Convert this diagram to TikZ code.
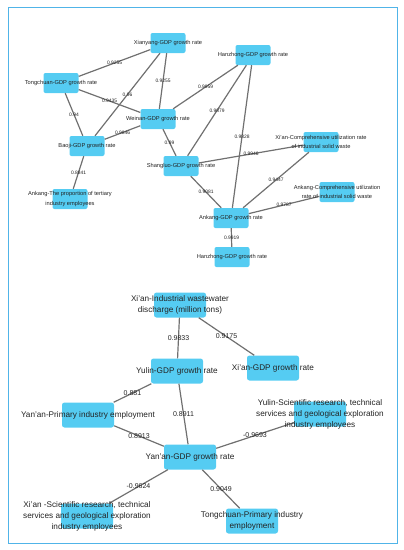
\documentclass[tikz,border=0pt]{standalone}
\usepackage{fontspec}
\setmainfont{Liberation Sans}
\definecolor{boxc}{RGB}{85,204,242}
\definecolor{edgec}{RGB}{112,112,112}
\definecolor{framec}{RGB}{80,180,232}
\definecolor{txtc}{RGB}{35,35,35}
\begin{document}
\begin{tikzpicture}[x=1pt,y=-1pt,
  tbox/.style={fill=boxc,draw=none,rounded corners=2pt,minimum width=35pt,minimum height=20pt,inner sep=0pt},
  bbox/.style={fill=boxc,draw=none,rounded corners=2.5pt,minimum width=52pt,minimum height=25pt,inner sep=0pt},
  ttext/.style={font=\fontsize{5.7}{9.5}\selectfont,text=txtc,align=center,inner sep=0pt},
  btext/.style={font=\fontsize{8.2}{11}\selectfont,text=txtc,align=center,inner sep=0pt},
  con/.style={draw=edgec,line width=1.2pt},
  tlab/.style={font=\fontsize{4.9}{5}\selectfont,text=txtc,inner sep=0pt,midway},
  blab/.style={font=\fontsize{7}{8}\selectfont,text=txtc,inner sep=0pt,midway}]
\useasboundingbox (0,0) rectangle (404,550);
\draw[framec,line width=0.9pt] (8,7) rectangle (397,543);

% ---------- top network: boxes ----------
\node[tbox] (xy) at (168,43) {};
\node[tbox] (tc) at (61,83) {};
\node[tbox] (wn) at (158,119) {};
\node[tbox] (hz) at (253,55) {};
\node[tbox] (bj) at (87,146) {};
\node[tbox] (sl) at (181,166) {};
\node[tbox] (at) at (70,199) {};
\node[tbox] (xc) at (321,142) {};
\node[tbox] (ac) at (337,192) {};
\node[tbox] (ak) at (231,218) {};
\node[tbox] (hz2) at (232,257) {};

% ---------- top network: connectors ----------
\draw[con] (tc) -- (xy) node[tlab] (l1) {0.9255};
\draw[con] (xy) -- (wn) node[tlab] (l2) {0.9255};
\draw[con] (xy) -- (bj) node[tlab] (l3) {0.96};
\draw[con] (tc) -- (wn) node[tlab] (l4) {0.9435};
\draw[con] (tc) -- (bj) node[tlab] (l5) {0.94};
\draw[con] (wn) -- (bj) node[tlab] (l6) {0.9846};
\draw[con] (wn) -- (hz) node[tlab] (l7) {0.9959};
\draw[con] (wn) -- (sl) node[tlab] (l8) {0.99};
\draw[con] (hz) -- (sl) node[tlab] (l9) {0.9879};
\draw[con] (hz) -- (ak) node[tlab] (l10) {0.9828};
\draw[con] (sl) -- (xc) node[tlab] (l11) {0.9946};
\draw[con] (sl) -- (ak) node[tlab] (l12) {0.9081};
\draw[con] (xc) -- (ak) node[tlab] (l13) {0.9447};
\draw[con] (ac) -- (ak) node[tlab] (l14) {0.9787};
\draw[con] (ak) -- (hz2) node[tlab] (l15) {0.9919};
\draw[con] (bj) -- (at) node[tlab] (l16) {0.8841};

% ---------- top network: texts ----------
\node[ttext] (xyt) at (xy) {Xianyang-GDP growth rate};
\node[ttext] (tct) at (tc) {Tongchuan-GDP growth rate};
\node[ttext] (wnt) at (wn) {Weinan-GDP growth rate};
\node[ttext] (hzt) at (hz) {Hanzhong-GDP growth rate};
\node[ttext] (bjt) at (bj) {Baoji-GDP growth rate};
\node[ttext] (slt) at (sl) {Shangluo-GDP growth rate};
\node[ttext] (att) at (at) {Ankang-The proportion of tertiary\\industry employees};
\node[ttext] (xct) at (xc) {Xi'an-Comprehensive utilization rate\\of industrial solid waste};
\node[ttext] (act) at (ac) {Ankang-Comprehensive utilization\\rate of industrial solid waste};
\node[ttext] (akt) at (ak) {Ankang-GDP growth rate};
\node[ttext] (hz2t) at (hz2) {Hanzhong-GDP growth rate};

% ---------- bottom network: boxes ----------
\node[bbox] (xw) at (180,305) {};
\node[bbox] (xg) at (273,368) {};
\node[bbox] (yl) at (177,371) {};
\node[bbox] (yp) at (88,415) {};
\node[bbox] (yg) at (190,457) {};
\node[bbox] (ys) at (320,414) {};
\node[bbox] (xs) at (87,516) {};
\node[bbox] (tp) at (252,521) {};

% ---------- bottom network: connectors ----------
\draw[con] (xw) -- (yl) node[blab] (m1) {0.9833};
\draw[con] (xw) -- (xg) node[blab] (m2) {0.9175};
\draw[con] (yl) -- (yp) node[blab] (m3) {0.881};
\draw[con] (yl) -- (yg) node[blab] (m4) {0.8911};
\draw[con] (yp) -- (yg) node[blab] (m5) {0.8913};
\draw[con] (yg) -- (ys) node[blab] (m6) {-0.9693};
\draw[con] (yg) -- (xs) node[blab] (m7) {-0.9624};
\draw[con] (yg) -- (tp) node[blab] (m8) {0.9049};

% ---------- bottom network: texts ----------
\node[btext] (xwt) at (xw) {Xi'an-Industrial wastewater\\discharge (million tons)};
\node[btext] (xgt) at (xg) {Xi'an-GDP growth rate};
\node[btext] (ylt) at (yl) {Yulin-GDP growth rate};
\node[btext] (ypt) at (yp) {Yan'an-Primary industry employment};
\node[btext] (ygt) at (yg) {Yan'an-GDP growth rate};
\node[btext] (yst) at (ys) {Yulin-Scientific research, technical\\services and geological exploration\\industry employees};
\node[btext] (xst) at (xs) {Xi'an -Scientific research, technical\\services and geological exploration\\industry employees};
\node[btext] (tpt) at (tp) {Tongchuan-Primary industry\\employment};
\end{tikzpicture}
\end{document}
